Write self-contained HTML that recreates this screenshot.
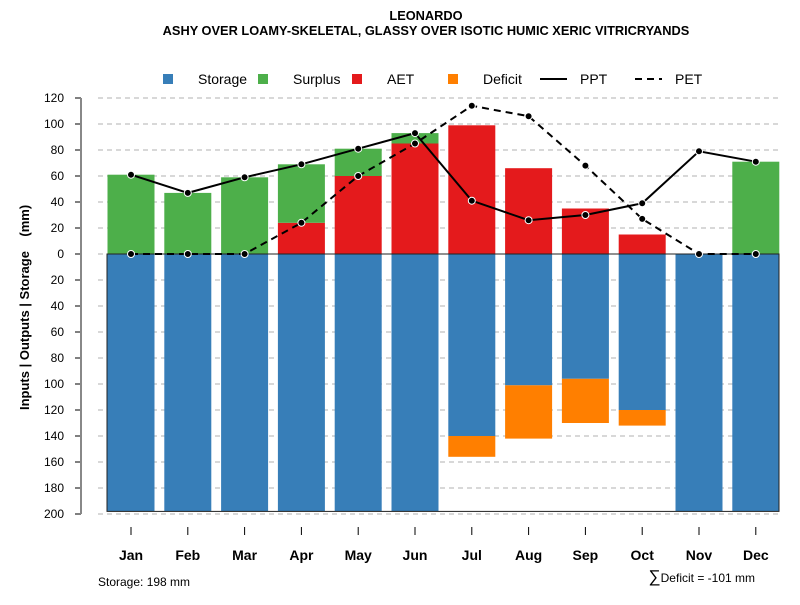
<!DOCTYPE html>
<html><head><meta charset="utf-8"><style>body{margin:0;background:#fff}svg{font-family:"Liberation Sans",sans-serif}</style></head>
<body>
<svg id="c" width="800" height="600" xmlns="http://www.w3.org/2000/svg">
<text x="426" y="20" text-anchor="middle" font-size="12.8" font-weight="bold">LEONARDO</text>
<text x="426" y="35" text-anchor="middle" font-size="12.8" font-weight="bold">ASHY OVER LOAMY-SKELETAL, GLASSY OVER ISOTIC HUMIC XERIC VITRICRYANDS</text>
<g id="legend"></g>
<g id="grid"></g><g id="bars"></g><g id="lines"></g><g id="axes"></g>
<text x="29" y="410" transform="rotate(-90 29 410)" font-size="13" font-weight="bold" xml:space="preserve">Inputs | Outputs | Storage    (mm)</text>
<text x="98" y="586" font-size="12">Storage: 198 mm</text>
<text x="755" y="582" text-anchor="end" font-size="12"><tspan font-size="17">∑</tspan>Deficit = -101 mm</text>
</svg>
<script>
const months=["Jan","Feb","Mar","Apr","May","Jun","Jul","Aug","Sep","Oct","Nov","Dec"];
const storage=[198,198,198,198,198,198,140,101,96,120,198,198];
const deficit=[0,0,0,0,0,0,16,41,34,12,0,0];
const aet=[0,0,0,24,60,85,99,66,35,15,0,0];
const surplus=[61,47,59,45,21,8,0,0,0,0,0,71];
const ppt=[61,47,59,69,81,93,41,26,30,39,79,71];
const pet=[0,0,0,24,60,85,114,106,68,27,0,0];
const yTicks=[120,100,80,60,40,20,0,20,40,60,80,100,120,140,160,180,200];
const NS="http://www.w3.org/2000/svg";
const y=v=>254-v*1.3;
const xc=i=>131+i*56.8;
const bw=47;
function mk(p,t,a){const e=document.createElementNS(NS,t);for(const k in a)e.setAttribute(k,a[k]);document.getElementById(p).appendChild(e);return e;}
yTicks.forEach((t,i)=>{const v=i<=6?t:-t;const yy=y(v);
 const g=mk("grid","line",{x1:98,x2:780,y1:yy,y2:yy,stroke:"#b0b0b0","stroke-dasharray":"5,4"});
 
 
 mk("axes","line",{x1:75,x2:81,y1:yy,y2:yy,stroke:"#000"});
 const tx=mk("axes","text",{x:64,y:yy+4,"text-anchor":"end","font-size":12});tx.textContent=t;
 
 
});
mk("axes","line",{x1:81,x2:81,y1:y(120),y2:y(-200),stroke:"#888","stroke-width":2});
months.forEach((m,i)=>{const x0=xc(i)-bw/2;
 const s=mk("bars","rect",{x:x0,y:y(0),width:bw,height:storage[i]*1.3,fill:"#377EB8"});
 
 
 if(deficit[i]>0){const d=mk("bars","rect",{x:x0,y:y(-storage[i]),width:bw,height:deficit[i]*1.3,fill:"#FF7F00"});
 
 }
 if(aet[i]>0){const a=mk("bars","rect",{x:x0,y:y(aet[i]),width:bw,height:aet[i]*1.3,fill:"#E41A1C"});
 
 }
 if(surplus[i]>0){const u=mk("bars","rect",{x:x0,y:y(aet[i]+surplus[i]),width:bw,height:surplus[i]*1.3,fill:"#4DAF4A"});
 
 }
 mk("axes","line",{x1:xc(i),x2:xc(i),y1:527,y2:535,stroke:"#000"});
 const t=mk("axes","text",{x:xc(i),y:560,"text-anchor":"middle","font-size":14,"font-weight":"bold"});t.textContent=m;
 
 
});
mk("bars","rect",{x:107,y:y(0),width:672,height:198*1.3,fill:"none",stroke:"#222","stroke-width":1});
function series(arr,dash,name){
 const p=mk("lines","polyline",{points:arr.map((v,i)=>xc(i)+","+y(v)).join(" "),fill:"none",stroke:"#000","stroke-width":2,"stroke-dasharray":dash});
 
 
 arr.forEach((v,i)=>{const c=mk("lines","circle",{cx:xc(i),cy:y(v),r:3.5,fill:"#000",stroke:"#fff","stroke-width":1});
 
 });
}
series(pet,"7,5","pet");series(ppt,"none","ppt");
const leg=[["Storage","#377EB8",168],["Surplus","#4DAF4A",263],["AET","#E41A1C",357],["Deficit","#FF7F00",453]];
leg.forEach(([n,c,x])=>{mk("legend","rect",{x:x-5,y:74,width:10,height:10,fill:c});
 const t=mk("legend","text",{x:x+30,y:84,"font-size":14});t.textContent=n;
 
 });
[["PPT","none",540],["PET","7,5",635]].forEach(([n,d,x])=>{mk("legend","line",{x1:x,x2:x+27,y1:79,y2:79,stroke:"#000","stroke-width":2,"stroke-dasharray":d});
 const t=mk("legend","text",{x:x+40,y:84,"font-size":14});t.textContent=n;
 
 });
</script>
</body></html>
